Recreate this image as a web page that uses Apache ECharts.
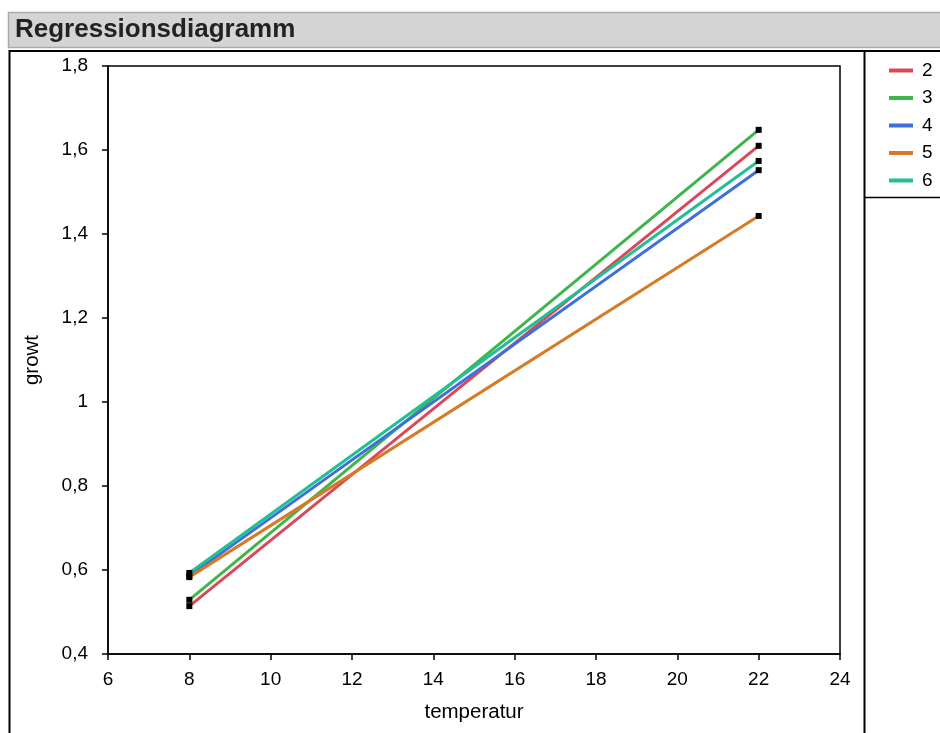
<!DOCTYPE html>
<html>
<head>
<meta charset="utf-8">
<script src="https://cdn.jsdelivr.net/npm/echarts@6/dist/echarts.min.js"></script>
<style>
html,body{margin:0;padding:0;background:#fff;}
#c{width:940px;height:733px;}
</style>
</head>
<body>
<div id="c"></div>
<script>
// ---- data ----
const groups = ['2', '3', '4', '5', '6'];
const xPoints = [8, 22];
const growtAt8 = [0.514, 0.529, 0.586, 0.583, 0.593];
const growtAt22 = [1.610, 1.648, 1.552, 1.443, 1.574];
const colors = ['#d9485a', '#3db54a', '#3f6fdd', '#d67a26', '#22bf94'];
const yTicks = [0.4, 0.6, 0.8, 1, 1.2, 1.4, 1.6, 1.8];
const xTicks = [6, 8, 10, 12, 14, 16, 18, 20, 22, 24];

const FONT = '"Liberation Sans", Arial, sans-serif';

const series = groups.map((g, i) => ({
  name: g,
  type: 'line',
  data: [[xPoints[0], growtAt8[i]], [xPoints[1], growtAt22[i]]],
  lineStyle: { color: colors[i], width: 3 },
  itemStyle: { color: '#000' },
  symbol: 'rect',
  symbolSize: 6,
  showSymbol: true,
  z: 3 + i
}));

const chart = echarts.init(document.getElementById('c'), null, { renderer: 'canvas' });
chart.setOption({
  animation: false,
  color: colors,
  textStyle: { fontFamily: FONT },
  grid: {
    left: 108, top: 66, width: 732, height: 588,
    show: true, borderColor: '#000', borderWidth: 1.5, backgroundColor: 'transparent'
  },
  xAxis: {
    type: 'value', min: xTicks[0], max: xTicks[xTicks.length - 1], interval: 2,
    name: 'temperatur', nameLocation: 'middle', nameGap: 48,
    nameTextStyle: { color: '#000', fontSize: 20.5, fontFamily: FONT },
    axisLine: { show: true, onZero: false, lineStyle: { color: '#000', width: 1.5 } },
    axisTick: { show: true, length: 6, lineStyle: { color: '#000', width: 1.5 } },
    axisLabel: { color: '#000', fontSize: 19, fontFamily: FONT, margin: 16 },
    splitLine: { show: false }
  },
  yAxis: {
    type: 'value', min: yTicks[0], max: yTicks[yTicks.length - 1], interval: 0.2,
    name: 'growt', nameLocation: 'middle', nameGap: 65, nameRotate: 90,
    nameTextStyle: { color: '#000', fontSize: 20.5, fontFamily: FONT, padding: [0, 0, 0, 0] },
    axisLine: { show: true, onZero: false, lineStyle: { color: '#000', width: 1.5 } },
    axisTick: { show: true, length: 6, lineStyle: { color: '#000', width: 1.5 } },
    axisLabel: {
      color: '#000', fontSize: 19, fontFamily: FONT, margin: 20,
      formatter: v => String(Math.round(v * 10) / 10).replace('.', ',')
    },
    splitLine: { show: false }
  },
  legend: {
    orient: 'vertical', left: 889, top: 61, padding: 0,
    icon: 'rect', itemWidth: 24, itemHeight: 4, itemGap: 8.5,
    textStyle: { color: '#000', fontSize: 19, fontFamily: FONT, padding: [0, 0, 0, 4] },
    data: groups.map((g, i) => ({ name: g, itemStyle: { color: colors[i] } })),
    selectedMode: false
  },
  graphic: [
    { type: 'rect', shape: { x: 8.5, y: 12.5, width: 940, height: 35 },
      style: { fill: '#d4d4d4', stroke: '#aaaaaa', lineWidth: 1.5 }, z: 1 },
    { type: 'text', x: 15, y: 30,
      style: { text: 'Regressionsdiagramm', fill: '#222', font: 'bold 26px ' + FONT, textVerticalAlign: 'middle' }, z: 2 },
    { type: 'polyline', shape: { points: [[9.5, 733], [9.5, 51], [940, 51]] },
      style: { stroke: '#000', lineWidth: 2, fill: null }, z: 2 },
    { type: 'line', shape: { x1: 864.5, y1: 51, x2: 864.5, y2: 733 },
      style: { stroke: '#000', lineWidth: 2 }, z: 2 },
    { type: 'line', shape: { x1: 864.5, y1: 197.5, x2: 940, y2: 197.5 },
      style: { stroke: '#000', lineWidth: 1.5 }, z: 2 }
  ],
  series: series
});
</script>
</body>
</html>
